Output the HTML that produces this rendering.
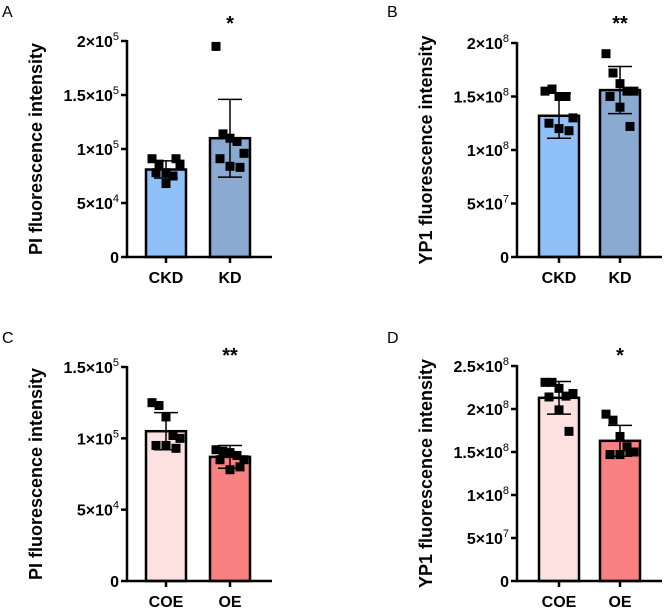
<!DOCTYPE html>
<html><head><meta charset="utf-8"><style>
body{margin:0;background:#fff;}
svg{display:block;font-family:"Liberation Sans",Arial,sans-serif;}
</style></head><body>
<svg id="fig" width="664" height="610" viewBox="0 0 664 610"></svg>
<script>
// Panel A
const catsA=["CKD","KD"];
const meanA=[81000,110000];
const sdA=[8000,36000];
const ptsA=[[91000,86000,78000,75000,86000,78000,68000,91000],[195000,114000,110000,107000,96000,91000,84000,83000]];
const ticksA=[0,50000,100000,150000,200000];
const tickLabA=[["0",""],["5×10","4"],["1×10","5"],["1.5×10","5"],["2×10","5"]];
// Panel B
const catsB=["CKD","KD"];
const meanB=[1.32e8,1.56e8];
const sdB=[0.21e8,0.22e8];
const ptsB=[[1.55e8,1.57e8,1.5e8,1.5e8,1.3e8,1.25e8,1.2e8,1.18e8],[1.9e8,1.72e8,1.62e8,1.55e8,1.55e8,1.5e8,1.4e8,1.22e8]];
const ticksB=[0,5e7,1e8,1.5e8,2e8];
const tickLabB=[["0",""],["5×10","7"],["1×10","8"],["1.5×10","8"],["2×10","8"]];
// Panel C
const catsC=["COE","OE"];
const meanC=[105000,87000];
const sdC=[13000,8000];
const ptsC=[[125000,123000,115000,102000,100000,95000,95000,93000],[92000,91000,90000,88000,85000,85000,78000,80000]];
const ticksC=[0,50000,100000,150000];
const tickLabC=[["0",""],["5×10","4"],["1×10","5"],["1.5×10","5"]];
// Panel D
const catsD=["COE","OE"];
const meanD=[2.13e8,1.63e8];
const sdD=[0.19e8,0.18e8];
const ptsD=[[2.31e8,2.31e8,2.24e8,2.15e8,2.18e8,2.14e8,1.99e8,1.74e8],[1.94e8,1.87e8,1.68e8,1.56e8,1.5e8,1.47e8,1.47e8,1.5e8]];
const ticksD=[0,5e7,1e8,1.5e8,2e8,2.5e8];
const tickLabD=[["0",""],["5×10","7"],["1×10","8"],["1.5×10","8"],["2×10","8"],["2.5×10","8"]];

const NS="http://www.w3.org/2000/svg";
const svg=document.getElementById('fig');
function mk(tag,attrs,parent){const e=document.createElementNS(NS,tag);for(const k in attrs)e.setAttribute(k,attrs[k]);(parent||svg).appendChild(e);return e;}

function panel(o){
  const g=mk('g',{});
  
  
  const ax=o.ax, y0=o.y0, yTop=o.yTop, vmax=o.ticks[o.ticks.length-1];
  const ys=v=>y0-(v/vmax)*(y0-yTop);
  const lt=mk('text',{x:o.lx,y:o.ly,'font-size':16,fill:'#000'},g);lt.textContent=o.letter;
  
  
  o.cats.forEach((c,i)=>{
    const cx=o.cx[i];
    const r=mk('rect',{x:cx-20,y:ys(o.mean[i]),width:40,height:y0-ys(o.mean[i]),fill:o.colors[i],stroke:'#000','stroke-width':2.5},g);
    
    
    o.pts[i].forEach((v,j)=>{
      const off=[-14,-7,0,7,14,-10,0,10][j];
      const p=mk('rect',{x:cx+off-4.5,y:ys(v)-4.5,width:9,height:9,fill:'#000'},g);
      
      
    });
    const eg=mk('g',{stroke:'#000','stroke-width':1.5},g);
    
    
    const hi=ys(o.mean[i]+o.sd[i]), lo=ys(o.mean[i]-o.sd[i]);
    mk('line',{x1:cx,x2:cx,y1:hi,y2:lo},eg);
    mk('line',{x1:cx-12,x2:cx+12,y1:hi,y2:hi},eg);
    mk('line',{x1:cx-12,x2:cx+12,y1:lo,y2:lo},eg);
    mk('line',{x1:cx,x2:cx,y1:y0,y2:y0+6,stroke:'#000','stroke-width':2.5},g);
    const t=mk('text',{x:cx,y:y0+26,'font-size':16,'font-weight':'bold','text-anchor':'middle'},g);
    t.textContent=c;
    
    
  });
  const a=mk('path',{d:`M${ax} ${yTop-1}V${y0}H${o.axEnd}`,stroke:'#000','stroke-width':2.5,fill:'none'},g);
  
  
  o.ticks.forEach((v,i)=>{
    const y=ys(v);
    mk('line',{x1:ax-6,x2:ax,y1:y,y2:y,stroke:'#000','stroke-width':2.5},g);
    const t=mk('text',{x:ax-8,y:y+6,'font-size':16,'font-weight':'bold','text-anchor':'end'},g);
    
    
    const lab=o.tickLab[i];
    if(lab[1]){
      const s1=mk('tspan',{},t);s1.textContent=lab[0];
      const s2=mk('tspan',{dy:-7,'font-size':11,'font-weight':'normal'},t);s2.textContent=lab[1];
    } else t.textContent=lab[0];
  });
  const yt=mk('text',{transform:`translate(${o.tx},${(y0+yTop)/2}) rotate(-90)`,'font-size':18,'font-weight':'bold','text-anchor':'middle'},g);
  yt.textContent=o.title;
  
  
  const st=mk('text',{x:o.cx[1],y:o.sy,'font-size':20,'font-weight':'bold','text-anchor':'middle'},g);
  st.textContent=o.star;
  
  
}
panel({letter:'A',lx:2,ly:17,ax:127,y0:257,yTop:41,axEnd:272,cx:[166,230],cats:catsA,mean:meanA,sd:sdA,pts:ptsA,ticks:ticksA,tickLab:tickLabA,colors:['#90c0f8','#8aaad2'],title:'PI fluorescence intensity',tx:42,star:'*',sy:30});
panel({letter:'B',lx:387,ly:17,ax:517,y0:257,yTop:43,axEnd:662,cx:[559,620],cats:catsB,mean:meanB,sd:sdB,pts:ptsB,ticks:ticksB,tickLab:tickLabB,colors:['#90c0f8','#8aaad2'],title:'YP1 fluorescence intensity',tx:432,star:'**',sy:30});
panel({letter:'C',lx:2,ly:343,ax:127,y0:581,yTop:367,axEnd:272,cx:[166,230],cats:catsC,mean:meanC,sd:sdC,pts:ptsC,ticks:ticksC,tickLab:tickLabC,colors:['#fde0e0','#f98080'],title:'PI fluorescence intensity',tx:42,star:'**',sy:362});
panel({letter:'D',lx:387,ly:343,ax:517,y0:581,yTop:366,axEnd:662,cx:[559,620],cats:catsD,mean:meanD,sd:sdD,pts:ptsD,ticks:ticksD,tickLab:tickLabD,colors:['#fde0e0','#f98080'],title:'YP1 fluorescence intensity',tx:432,star:'*',sy:362});
</script>
</body></html>
